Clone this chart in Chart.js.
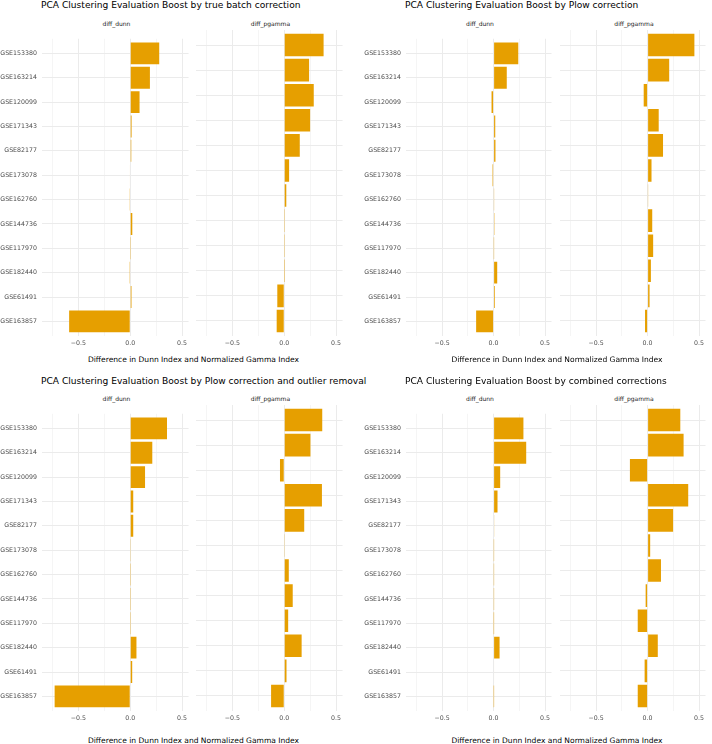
<!DOCTYPE html>
<html>
<head>
<meta charset="utf-8">
<script src="https://cdn.jsdelivr.net/npm/chart.js@4.4.1/dist/chart.umd.min.js"></script>
<style>
  body { margin: 0; background: #fff; }
  #wrap { position: relative; width: 712px; height: 744px; overflow: hidden; font-family: "DejaVu Sans", sans-serif; }
  .txt { position: absolute; white-space: nowrap; }
  .box { position: absolute; }
</style>
</head>
<body>
<div id="wrap"></div>
<script>
// categories, top to bottom
const categories = ["GSE153380", "GSE163214", "GSE120099", "GSE171343", "GSE82177", "GSE173078",
                    "GSE162760", "GSE144736", "GSE117970", "GSE182440", "GSE61491", "GSE163857"];
const facetNames = ["diff_dunn", "diff_pgamma"];
const panelTitles = [
    "PCA Clustering Evaluation Boost by true batch correction",
    "PCA Clustering Evaluation Boost by Plow correction",
    "PCA Clustering Evaluation Boost by Plow correction and outlier removal",
    "PCA Clustering Evaluation Boost by combined corrections"
];
const axisTitle = "Difference in Dunn Index and Normalized Gamma Index";

// values
const trueDunn = [0.28, 0.19, 0.09, 0.013, 0.01, -0.005, -0.003, 0.02, 0.002, -0.002, 0.012, -0.59];
const truePgamma = [0.38, 0.24, 0.285, 0.25, 0.15, 0.047, 0.02, 0.002, 0.002, 0.001, -0.067, -0.073];
const plowDunn = [0.24, 0.128, -0.02, 0.016, 0.018, -0.01, 0.003, 0.008, 0.002, 0.035, 0.012, -0.17];
const plowPgamma = [0.455, 0.21, -0.038, 0.108, 0.15, 0.038, 0.003, 0.045, 0.054, 0.032, 0.019, -0.025];
const outlierDunn = [0.355, 0.213, 0.143, 0.029, 0.029, 0.003, 0.002, 0.002, 0.002, 0.06, 0.019, -0.73];
const outlierPgamma = [0.367, 0.253, -0.041, 0.364, 0.193, 0.003, 0.044, 0.082, 0.038, 0.168, 0.022, -0.127];
const combinedDunn = [0.29, 0.317, 0.064, 0.038, 0.006, 0.002, 0.002, 0.002, 0.001, 0.058, 0.005, 0.001];
const combinedPgamma = [0.318, 0.35, -0.172, 0.395, 0.248, 0.025, 0.13, -0.019, -0.096, 0.099, -0.029, -0.096];

const xTicks = [-0.75, -0.5, -0.25, 0, 0.25, 0.5];
const xMin = -0.852, xMax = 0.563;

const panels = [
    [trueDunn, truePgamma],
    [plowDunn, plowPgamma],
    [outlierDunn, outlierPgamma],
    [combinedDunn, combinedPgamma]
];

// layout
const FONT = "DejaVu Sans";
const cols = [
    { x: 0, facets: [[42, 191], [196, 345]] },
    { x: 356, facets: [[406, 554], [560, 708]] }
];
const rows = [
    { plotTop: 30, title: 8.8, strip: 26, axis: 362.5 },
    { plotTop: 405, title: 385, strip: 401, axis: 743 }
];
const plotH = 306, xAxisH = 20;

const wrap = document.getElementById("wrap");

function addText(str, x, baseline, size, color, center) {
    const d = document.createElement("div");
    d.className = "txt";
    d.textContent = str;
    d.style.fontSize = size + "px";
    d.style.lineHeight = size + "px";
    d.style.color = color;
    d.style.top = (baseline - 0.846 * size) + "px";
    if (center) {
        d.style.left = (x - 300) + "px";
        d.style.width = "600px";
        d.style.textAlign = "center";
    } else {
        d.style.left = x + "px";
    }
    wrap.appendChild(d);
}

function isMajor(v) {
    return Math.abs(v * 2 - Math.round(v * 2)) < 1e-6;
}

function fmt(v) {
    if (Math.abs(v) < 1e-9) return "0.0";
    return (v < 0 ? "\u2212" : "") + Math.abs(v).toFixed(1);
}

function makeFacet(values, showLabels, left, top, width, yw) {
    const box = document.createElement("div");
    box.className = "box";
    box.style.left = left + "px";
    box.style.top = top + "px";
    box.style.width = width + "px";
    box.style.height = (plotH + xAxisH) + "px";
    const cv = document.createElement("canvas");
    box.appendChild(cv);
    wrap.appendChild(box);

    new Chart(cv, {
        type: "bar",
        data: {
            datasets: [{
                data: values.map((v, i) => ({ x: v, y: i + 1 })),
                backgroundColor: "#E69F00",
                borderWidth: 0,
                barPercentage: 0.9,
                categoryPercentage: 1
            }]
        },
        options: {
            indexAxis: "y",
            responsive: true,
            maintainAspectRatio: false,
            animation: false,
            events: [],
            layout: { padding: 0 },
            plugins: { legend: { display: false }, tooltip: { enabled: false } },
            scales: {
                x: {
                    type: "linear",
                    min: xMin,
                    max: xMax,
                    afterBuildTicks: s => { s.ticks = xTicks.map(v => ({ value: v })); },
                    afterFit: s => { s.height = xAxisH; },
                    ticks: {
                        padding: 4,
                        autoSkip: false,
                        maxRotation: 0,
                        color: "#4D4D4D",
                        font: { family: FONT, size: 6.27 },
                        callback: v => isMajor(v) ? fmt(v) : ""
                    },
                    grid: {
                        color: "#EBEBEB",
                        lineWidth: ctx => (ctx.tick && isMajor(ctx.tick.value)) ? 1 : 0.5,
                        drawTicks: false
                    },
                    border: { display: false }
                },
                y: {
                    type: "linear",
                    reverse: true,
                    min: 0.4,
                    max: 12.6,
                    offset: false,
                    afterBuildTicks: s => { s.ticks = categories.map((c, i) => ({ value: i + 1 })); },
                    afterFit: s => { s.width = yw; },
                    ticks: {
                        display: showLabels,
                        padding: 5,
                        autoSkip: false,
                        color: "#4D4D4D",
                        font: { family: FONT, size: 6.27 },
                        callback: v => categories[v - 1]
                    },
                    grid: { offset: false, color: "#EBEBEB", lineWidth: 1, drawTicks: false },
                    border: { display: false }
                }
            }
        }
    });
}

panels.forEach((series, p) => {
    const row = rows[Math.floor(p / 2)];
    const col = cols[p % 2];
    const [lf, rf] = col.facets;

    addText(panelTitles[p], lf[0] - 1, row.title, 9.1, "#000000", false);
    addText(facetNames[0], (lf[0] + lf[1]) / 2, row.strip, 6.0, "#1A1A1A", true);
    addText(facetNames[1], (rf[0] + rf[1]) / 2, row.strip, 6.0, "#1A1A1A", true);
    addText(axisTitle, (lf[0] + rf[1]) / 2, row.axis, 7.55, "#000000", true);

    makeFacet(series[0], true, col.x, row.plotTop, lf[1] - col.x, lf[0] - col.x);
    makeFacet(series[1], false, rf[0], row.plotTop, rf[1] - rf[0], 0);
});
</script>
</body>
</html>
